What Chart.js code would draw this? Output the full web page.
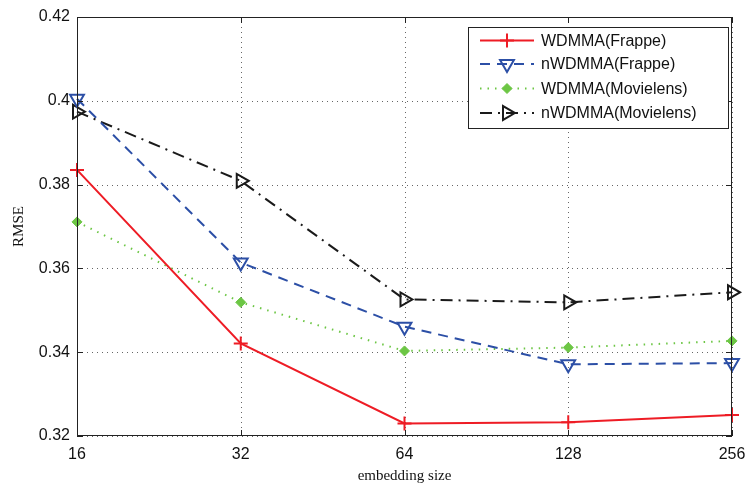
<!DOCTYPE html>
<html>
<head>
<meta charset="utf-8">
<script src="https://cdn.jsdelivr.net/npm/chart.js@4/dist/chart.umd.min.js"></script>
<style>
html,body{margin:0;padding:0;background:#fff;}
#wrap{width:748px;height:486px;position:relative;}
</style>
</head>
<body>
<div id="wrap"><canvas id="c" width="748" height="486"></canvas></div>
<script>
const categories = ['16', '32', '64', '128', '256'];
const wdmmaFrappe = [0.3835, 0.3421, 0.3230, 0.3233, 0.3250];
const nwdmmaFrappe = [0.4005, 0.3614, 0.3461, 0.3371, 0.3374];
const wdmmaMovielens = [0.3711, 0.3519, 0.3403, 0.3411, 0.3427];
const nwdmmaMovielens = [0.3974, 0.3809, 0.3526, 0.3519, 0.3543];
const yTicks = [0.32, 0.34, 0.36, 0.38, 0.40, 0.42];
const seriesNames = ['WDMMA(Frappe)', 'nWDMMA(Frappe)', 'WDMMA(Movielens)', 'nWDMMA(Movielens)'];

const RED = '#ee1c25', BLUE = '#2c4fa6', GREEN = '#6cc644', BLACK = '#1a1a1a';

const datasets = [
  {label: seriesNames[0], data: wdmmaFrappe, borderColor: RED, backgroundColor: RED, borderWidth: 2,
   pointStyle: 'cross', pointRadius: 7, pointBorderWidth: 2, borderDash: []},
  {label: seriesNames[1], data: nwdmmaFrappe, borderColor: BLUE, backgroundColor: 'rgba(0,0,0,0)', borderWidth: 2,
   pointStyle: 'triangle', pointRotation: 180, pointRadius: 8, pointBorderWidth: 2, borderDash: [10, 7]},
  {label: seriesNames[2], data: wdmmaMovielens, borderColor: GREEN, backgroundColor: GREEN, borderWidth: 2,
   pointStyle: 'rectRot', pointRadius: 5, pointBorderWidth: 1, borderDash: [1.5, 6]},
  {label: seriesNames[3], data: nwdmmaMovielens, borderColor: BLACK, backgroundColor: 'rgba(0,0,0,0)', borderWidth: 2,
   pointStyle: 'triangle', pointRotation: 90, pointRadius: 8, pointBorderWidth: 2, borderDash: [12, 6, 2, 6]}
];
datasets.forEach(d => { d.tension = 0; d.fill = false; d.pointBorderColor = d.borderColor;
  d.pointBackgroundColor = d.backgroundColor; });

const framePlugin = {
  id: 'frame',
  beforeDraw(chart) {
    const ctx = chart.ctx;
    ctx.save();
    ctx.fillStyle = '#fff';
    ctx.fillRect(0, 0, chart.width, chart.height);
    ctx.restore();
  },
  beforeDatasetsDraw(chart) {
    const ctx = chart.ctx, a = chart.chartArea;
    const xs = chart.scales.x, ys = chart.scales.y;
    ctx.save();
    ctx.strokeStyle = '#666';
    ctx.lineWidth = 1;
    ctx.setLineDash([1, 4]);
    ctx.beginPath();
    categories.forEach((c, i) => {
      const x = Math.round(xs.getPixelForValue(i)) + 0.5;
      ctx.moveTo(x, a.top); ctx.lineTo(x, a.bottom);
    });
    yTicks.forEach(v => {
      const y = Math.round(ys.getPixelForValue(v)) + 0.5;
      ctx.moveTo(a.left, y); ctx.lineTo(a.right, y);
    });
    ctx.stroke();
    ctx.restore();
  },
  afterDatasetsDraw(chart) {
    const ctx = chart.ctx, a = chart.chartArea;
    const xs = chart.scales.x, ys = chart.scales.y;
    ctx.save();
    ctx.strokeStyle = '#222';
    ctx.lineWidth = 1;
    ctx.setLineDash([]);
    ctx.strokeRect(Math.round(a.left) + 0.5, Math.round(a.top) + 0.5,
                   Math.round(a.right - a.left) - 1, Math.round(a.bottom - a.top) - 1);
    const L = 6;
    ctx.beginPath();
    categories.forEach((c, i) => {
      const x = Math.round(xs.getPixelForValue(i)) + 0.5;
      ctx.moveTo(x, a.bottom); ctx.lineTo(x, a.bottom - L);
      ctx.moveTo(x, a.top); ctx.lineTo(x, a.top + L);
    });
    yTicks.forEach(v => {
      const y = Math.round(ys.getPixelForValue(v)) + 0.5;
      ctx.moveTo(a.left, y); ctx.lineTo(a.left + L, y);
      ctx.moveTo(a.right, y); ctx.lineTo(a.right - L, y);
    });
    ctx.stroke();

    // legend
    const bx = 468, by = 27, bw = 260, bh = 101;
    ctx.fillStyle = '#fff';
    ctx.fillRect(bx, by, bw, bh);
    ctx.strokeStyle = '#222';
    ctx.lineWidth = 1;
    ctx.strokeRect(bx + 0.5, by + 0.5, bw, bh);
    const rowsY = [40.5, 64, 88.5, 113];
    chart.data.datasets.forEach((d, i) => {
      const y = rowsY[i];
      ctx.save();
      ctx.strokeStyle = d.borderColor;
      ctx.lineWidth = d.borderWidth;
      ctx.setLineDash(d.borderDash);
      ctx.beginPath();
      ctx.moveTo(480, y); ctx.lineTo(534, y);
      ctx.stroke();
      ctx.setLineDash([]);
      ctx.strokeStyle = d.pointBorderColor;
      ctx.fillStyle = d.pointBackgroundColor;
      ctx.lineWidth = d.pointBorderWidth;
      Chart.helpers.drawPoint(ctx, {pointStyle: d.pointStyle, rotation: d.pointRotation || 0,
        radius: d.pointRadius, borderWidth: d.pointBorderWidth}, 507, y);
      ctx.restore();
      ctx.fillStyle = '#111';
      ctx.font = '16px "Liberation Sans", Arial, sans-serif';
      ctx.textBaseline = 'middle';
      ctx.textAlign = 'left';
      ctx.fillText(d.label, 541, y + 1);
    });
    ctx.restore();
  }
};

new Chart(document.getElementById('c'), {
  type: 'line',
  data: {labels: categories, datasets: datasets},
  options: {
    responsive: false,
    animation: false,
    devicePixelRatio: 1,
    layout: {padding: {left: 0, top: 17, right: 16, bottom: 0}},
    plugins: {legend: {display: false}, tooltip: {enabled: false}},
    scales: {
      x: {
        type: 'category',
        offset: false,
        grid: {display: false, drawTicks: false},
        border: {display: false},
        ticks: {color: '#111', padding: 9, font: {family: '"Liberation Sans", Arial, sans-serif', size: 16}},
        title: {display: true, text: 'embedding size', color: '#111', padding: {top: 0, bottom: 1},
                font: {family: '"Liberation Serif", "Times New Roman", serif', size: 15}},
        afterFit(s) { s.height = 50; s.paddingLeft = 0; s.paddingRight = 0; }
      },
      y: {
        min: 0.32, max: 0.42,
        afterBuildTicks(s) { s.ticks = yTicks.map(v => ({value: v})); },
        grid: {display: false, drawTicks: false},
        border: {display: false},
        ticks: {color: '#111', padding: 7, font: {family: '"Liberation Sans", Arial, sans-serif', size: 16},
                callback: v => { const s = (+v).toFixed(2); return s === '0.40' ? '0.4' : s; }},
        title: {display: true, text: 'RMSE', color: '#111', padding: {top: 10, bottom: 0},
                font: {family: '"Liberation Serif", "Times New Roman", serif', size: 15}},
        afterFit(s) { s.width = 77; }
      }
    }
  },
  plugins: [framePlugin]
});
</script>
</body>
</html>
